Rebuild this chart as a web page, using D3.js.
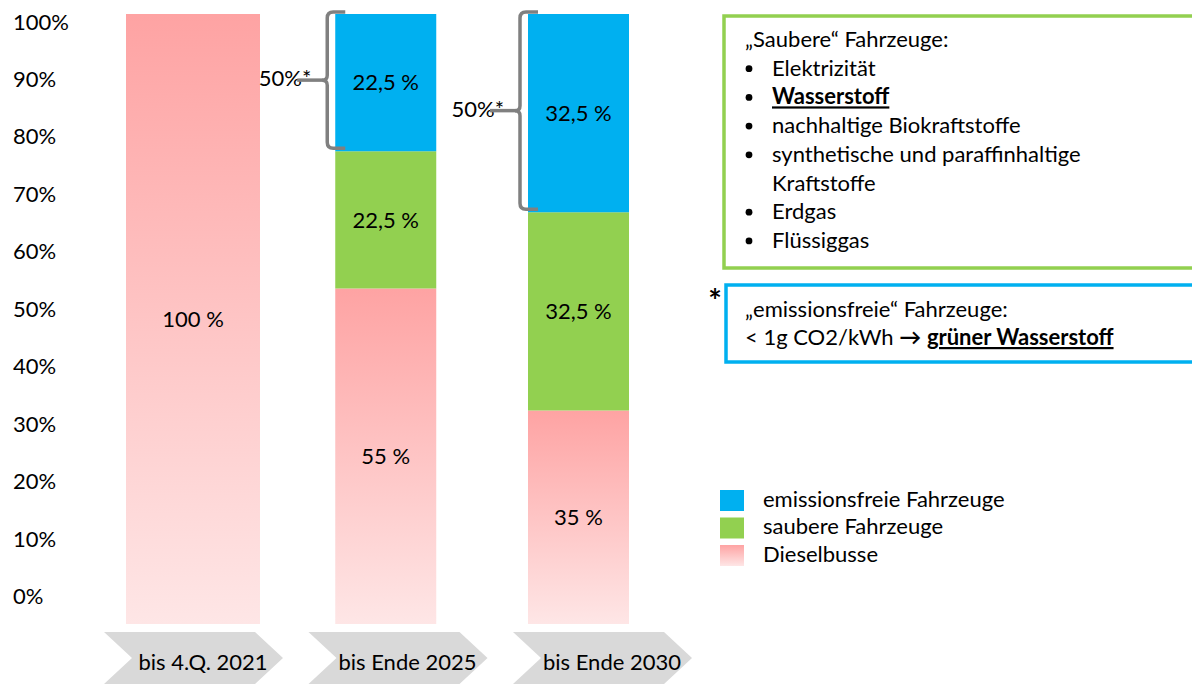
<!DOCTYPE html>
<html lang="de">
<head>
<meta charset="utf-8">
<script src="https://cdn.jsdelivr.net/npm/d3@7"></script>
<style>
  body { margin: 0; background: #fff; }
  svg text { font-family: Lato, 'Open Sans', sans-serif; fill: #000; }
</style>
</head>
<body>
<div class="chart"></div>
<script>
// data
const periods = ['bis 4.Q. 2021', 'bis Ende 2025', 'bis Ende 2030']
const diesel = [100, 55, 35]
const sauber = [0, 22.5, 32.5]
const emissionsfrei = [0, 22.5, 32.5]
const seriesNames = ['emissionsfreie Fahrzeuge', 'saubere Fahrzeuge', 'Dieselbusse']
const yTicks = [0, 10, 20, 30, 40, 50, 60, 70, 80, 90, 100]
const braceLabel = '50%*'

const saubereTitle = '„Saubere“ Fahrzeuge:'
const saubereItems = ['Elektrizität', 'Wasserstoff', 'nachhaltige Biokraftstoffe',
    'synthetische und paraffinhaltige|Kraftstoffe', 'Erdgas', 'Flüssiggas']
const emissionsTitle = '„emissionsfreie“ Fahrzeuge:'
const emissionsLine = ['< 1g CO2/kWh ', '→', ' ', 'grüner Wasserstoff']

const svgWidth = 1192
const svgHeight = 684
const fontSize = 22

const svg = d3.select('.chart').append('svg')
    .attr('width', svgWidth)
    .attr('height', svgHeight)

const defs = svg.append('defs')
const grad = defs.append('linearGradient')
    .attr('id', 'pinkGrad')
    .attr('x1', 0).attr('y1', 0).attr('x2', 0).attr('y2', 1)
grad.append('stop').attr('offset', '0%').attr('stop-color', '#fea3a3')
grad.append('stop').attr('offset', '100%').attr('stop-color', '#fee6e6')

const colors = {
    emissionsfrei: '#00b0f0',
    sauber: '#92d050',
    diesel: 'url(#pinkGrad)'
}

// scales
const y = d3.scaleLinear().domain([0, 100]).range([624, 14])
const yLabels = d3.scaleLinear().domain([0, 100]).range([596.5, 22])
const xCenter = d3.scalePoint().domain(periods).range([193, 578.5])
const chevronX = d3.scalePoint().domain(periods).range([104, 513])
const barWidth = i => i === 0 ? 134 : 101

const de = d3.formatLocale({ decimal: ',', thousands: '.', grouping: [3], currency: ['', ' €'] })
const fmt = v => de.format('~g')(v) + ' %'

// y axis labels (no lines)
svg.append('g')
    .attr('transform', 'translate(13,0)')
    .call(d3.axisRight(yLabels).tickValues(yTicks).tickSize(0).tickPadding(0)
        .tickFormat(d => d + '%'))
    .call(g => g.select('.domain').remove())
    .attr('font-size', fontSize)
    .attr('font-family', null)

// stacked bars
const rows = periods.map((p, i) => ({
    period: p, diesel: diesel[i], sauber: sauber[i], emissionsfrei: emissionsfrei[i]
}))
const keys = ['diesel', 'sauber', 'emissionsfrei']
const series = d3.stack().keys(keys)(rows)

const segments = []
series.forEach(s => {
    s.forEach((d, i) => {
        if (d[1] - d[0] > 0) segments.push({ key: s.key, i, d0: d[0], d1: d[1], period: d.data.period })
    })
})

svg.append('g').selectAll('rect')
    .data(segments)
    .join('rect')
    .attr('x', d => xCenter(d.period) - barWidth(d.i) / 2)
    .attr('width', d => barWidth(d.i))
    .attr('y', d => y(d.d1))
    .attr('height', d => y(d.d0) - y(d.d1))
    .attr('fill', d => colors[d.key])

svg.append('g').selectAll('text')
    .data(segments)
    .join('text')
    .attr('x', d => xCenter(d.period))
    .attr('y', d => (y(d.d0) + y(d.d1)) / 2)
    .attr('dy', '0.35em')
    .attr('text-anchor', 'middle')
    .attr('font-size', fontSize)
    .text(d => fmt(d.d1 - d.d0))

// braces over the emission-free part
const braces = periods.map((p, i) => ({ p, i })).filter(d => emissionsfrei[d.i] > 0)
const braceG = svg.append('g')
braces.forEach(({ p, i }) => {
    const left = xCenter(p) - barWidth(i) / 2
    const x0 = left - 8
    const top = y(100) - 2
    const bottom = y(diesel[i] + sauber[i]) - 3
    const mid = (top + bottom) / 2
    const r = 6
    const path = `M${x0 + 18},${top} H${x0 + r} Q${x0},${top} ${x0},${top + r}
        V${mid - 5} Q${x0},${mid} ${x0 - 5},${mid} Q${x0},${mid} ${x0},${mid + 5}
        V${bottom - r} Q${x0},${bottom} ${x0 + r},${bottom} H${x0 + 18}`
    braceG.append('path')
        .attr('d', path)
        .attr('fill', 'none')
        .attr('stroke', '#808080')
        .attr('stroke-width', 3.5)
    braceG.append('text')
        .attr('x', x0 - 16)
        .attr('y', mid + 6)
        .attr('text-anchor', 'end')
        .attr('font-size', fontSize)
        .text(braceLabel)
    braceG.append('line')
        .attr('x1', x0 - 30).attr('x2', x0 - 4)
        .attr('y1', mid).attr('y2', mid)
        .attr('stroke', '#808080')
        .attr('stroke-width', 3.5)
})

// chevrons
const chevW = 179, notch = 28, chevTop = 632, chevH = 52
const chevG = svg.append('g')
periods.forEach(p => {
    const L = chevronX(p)
    const pts = [[L, chevTop], [L + chevW - notch, chevTop], [L + chevW, chevTop + chevH / 2],
        [L + chevW - notch, chevTop + chevH], [L, chevTop + chevH], [L + notch, chevTop + chevH / 2]]
    chevG.append('polygon')
        .attr('points', pts.map(q => q.join(',')).join(' '))
        .attr('fill', '#d9d9d9')
    chevG.append('text')
        .attr('x', L + 99)
        .attr('y', 670)
        .attr('text-anchor', 'middle')
        .attr('font-size', fontSize)
        .text(p)
})

// green info box
svg.append('rect')
    .attr('x', 724).attr('y', 16)
    .attr('width', 520).attr('height', 252)
    .attr('fill', 'none')
    .attr('stroke', '#92d050')
    .attr('stroke-width', 3.5)

const lineH = 28.7
const lines = [{ t: saubereTitle, x: 745 }]
saubereItems.forEach(item => {
    item.split('|').forEach((part, k) => {
        lines.push({ t: part, x: 772, bullet: k === 0, bold: part === 'Wasserstoff' })
    })
})
const boxText = svg.append('g').attr('font-size', fontSize)
lines.forEach((l, i) => {
    const by = 47 + i * lineH
    if (l.bullet) {
        boxText.append('circle')
            .attr('cx', 749).attr('cy', by - 7).attr('r', 3.4)
            .attr('fill', '#000')
    }
    boxText.append('text')
        .attr('x', l.x).attr('y', by)
        .attr('font-weight', l.bold ? 'bold' : null)
        .style('text-decoration', l.bold ? 'underline' : null)
        .text(l.t)
})

// blue info box
svg.append('rect')
    .attr('x', 726).attr('y', 285)
    .attr('width', 520).attr('height', 77)
    .attr('fill', '#fff')
    .attr('stroke', '#00b0f0')
    .attr('stroke-width', 3.5)
svg.append('text')
    .attr('x', 715).attr('y', 313)
    .attr('text-anchor', 'middle')
    .attr('font-size', 32)
    .attr('font-weight', 'bold')
    .text('*')
svg.append('text')
    .attr('x', 745).attr('y', 317)
    .attr('font-size', fontSize)
    .text(emissionsTitle)
const l2 = svg.append('text')
    .attr('x', 745).attr('y', 345)
    .attr('font-size', fontSize)
l2.append('tspan').text(emissionsLine[0])
l2.append('tspan').attr('font-weight', 'bold').text(emissionsLine[1])
l2.append('tspan').text(emissionsLine[2])
l2.append('tspan').attr('font-weight', 'bold')
    .style('text-decoration', 'underline')
    .text(emissionsLine[3])

// legend
const legendKeys = ['emissionsfrei', 'sauber', 'diesel']
const legend = svg.append('g').selectAll('g')
    .data(legendKeys)
    .join('g')
    .attr('transform', (d, i) => `translate(720,${490 + i * 27.5})`)
legend.append('rect')
    .attr('width', 24).attr('height', 21)
    .attr('fill', d => colors[d])
legend.append('text')
    .attr('x', 43).attr('y', 16.5)
    .attr('font-size', fontSize)
    .text((d, i) => seriesNames[i])
</script>
</body>
</html>
